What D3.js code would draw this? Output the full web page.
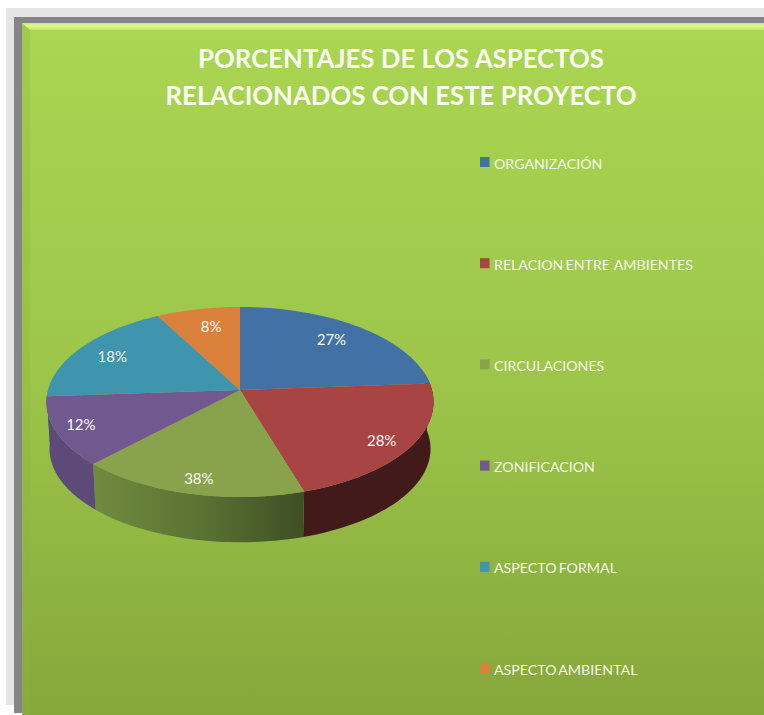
<!DOCTYPE html>
<html><head><meta charset="utf-8">
<script src="https://cdn.jsdelivr.net/npm/d3@7"></script>
<style>html,body{margin:0;padding:0;background:#fff;overflow:hidden}svg{display:block}</style>
</head><body><svg id="c" width="764" height="715"></svg>
<script>
const categories = ["ORGANIZACIÓN","RELACION ENTRE  AMBIENTES","CIRCULACIONES","ZONIFICACION","ASPECTO FORMAL","ASPECTO AMBIENTAL"];
const percentLabels = ["27%","28%","38%","12%","18%","8%"];
// slice sizes as drawn in the picture (they differ from the printed labels)
const sliceSizes = [23.9,21.4,17.0,11.7,18.2,7.9];
const topColors = ["#4271a6","#a84444","#88a34c","#71588f","#3f94ae","#db813c"];
const wallColors = ["#2c4a6e","#431a1a","url(#greenWall)","#5e4a78","#2a6274","#8f5427"];
const titleLines = ["PORCENTAJES DE LOS ASPECTOS","RELACIONADOS CON ESTE PROYECTO"];

const svg = d3.select("#c");
const defs = svg.append("defs");
const lin = (id,x1,y1,x2,y2,stops,user)=>{
  const g = defs.append("linearGradient").attr("id",id).attr("x1",x1).attr("y1",y1).attr("x2",x2).attr("y2",y2);
  if(user) g.attr("gradientUnits","userSpaceOnUse");
  stops.forEach(s=>g.append("stop").attr("offset",s[0]).attr("stop-color",s[1]));
};
lin("bg",0,0,0,1,[[0,"#aad652"],[0.5,"#9dc64a"],[1,"#86a73b"]]);
lin("greenWall",90,0,303,0,[[0,"#708c3e"],[0.5,"#5b7434"],[1,"#3f4f24"]],true);
lin("topBevel",0,0,0,1,[[0,"#d2ee74"],[0.5,"#dcf688"],[1,"#c4e468"]]);

// frame
svg.append("rect").attr("x",6).attr("y",8).attr("width",758).attr("height",697).attr("fill","#e5e5e5");
svg.append("rect").attr("x",14).attr("y",17).attr("width",750).attr("height",696).attr("fill","#858585");
svg.append("rect").attr("x",22).attr("y",23).attr("width",742).attr("height",692).attr("fill","url(#bg)");
svg.append("path").attr("d",d3.line()([[22,23],[764,23],[764,30],[30,30]])+"Z").attr("fill","url(#topBevel)");
svg.append("path").attr("d",d3.line()([[22,23],[30,30],[30,715],[22,715]])+"Z").attr("fill","#8fb244").attr("opacity",0.3);

// title
const titleWidths = [406,471];
svg.append("g").selectAll("text").data(titleLines).join("text")
  .attr("x",401).attr("y",(d,i)=>68+i*37).attr("text-anchor","middle")
  .attr("font-family","Lato").attr("font-weight",700).attr("font-size",27.5)
  .attr("textLength",(d,i)=>titleWidths[i]).attr("lengthAdjust","spacingAndGlyphs")
  .attr("fill","#fafdf2").text(d=>d);

// pie with a perspective projection of the disk
const pie = d3.pie().sort(null).value(d=>d).startAngle(0).endAngle(2*Math.PI);
const arcs = pie(sliceSizes);
const K = -0.126;
function project(r,a,lower){
  const u = r*Math.sin(a), v = -r*Math.cos(a), w = 1+K*v;
  return lower
    ? [240+189*u/w, 437+92*v/w]
    : [240+192*u/w, 390+93.5*v/w];
}
const angles = (a0,a1)=>d3.range(0,41).map(i=>a0+(a1-a0)*i/40);
const line = d3.line();
const F = Math.PI/180;

// side walls
const walls = svg.append("g");
arcs.forEach((d,i)=>{
  const a0 = Math.max(d.startAngle,80*F), a1 = Math.min(d.endAngle,268*F);
  if(a1<=a0) return;
  const as = angles(a0,a1);
  const pts = as.map(a=>project(1,a,false)).concat(as.slice().reverse().map(a=>project(1,a,true)));
  walls.append("path").attr("d",line(pts)+"Z").attr("fill",wallColors[i]);
});
// top faces
svg.append("g").selectAll("path").data(arcs).join("path")
  .attr("d",d=>line([project(0,0,false)].concat(angles(d.startAngle,d.endAngle).map(a=>project(1,a,false))))+"Z")
  .attr("fill",(d,i)=>topColors[i]);
// value labels: placed off the slice mid-radius by a per-slice nudge
const labelNudge = [[10,-7],[32,14],[-9,24],[-40,8],[-21,-4],[0,-8]];
const labelPos = (d,i)=>{
  const p = project(0.66,(d.startAngle+d.endAngle)/2,false);
  return [p[0]+labelNudge[i][0], p[1]+labelNudge[i][1]+5];
};
svg.append("g").selectAll("text").data(arcs).join("text")
  .attr("x",(d,i)=>labelPos(d,i)[0])
  .attr("y",(d,i)=>labelPos(d,i)[1])
  .attr("text-anchor","middle").attr("font-family","Lato").attr("font-size",15)
  .attr("fill","#fafafa").text((d,i)=>percentLabels[i]);

// legend
const legendY = d3.scalePoint().domain(categories).range([163,669]);
const lg = svg.append("g").selectAll("g").data(categories).join("g")
  .attr("transform",d=>`translate(480,${legendY(d)})`);
lg.append("rect").attr("x",0).attr("y",-6).attr("width",9.5).attr("height",10).attr("fill",(d,i)=>topColors[i]);
lg.append("text").attr("x",14).attr("y",5.5).attr("font-family","Lato").attr("font-size",14.2)
  .attr("word-spacing",-1.5).style("white-space","pre").attr("fill","#f3f8e6").text(d=>d);
</script></body></html>
